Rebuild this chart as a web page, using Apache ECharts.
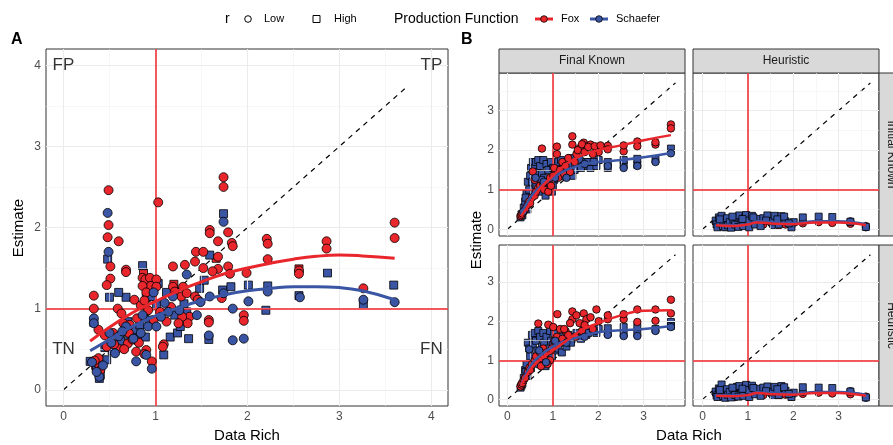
<!DOCTYPE html>
<html><head><meta charset="utf-8">
<script src="https://cdn.jsdelivr.net/npm/echarts@6/dist/echarts.min.js"></script>
<style>html,body{margin:0;padding:0;background:#fff}#c{width:893px;height:445px}</style>
</head><body><div id="c"></div>
<script>
// ---------- Panel A data ----------
const foxLowA = [[0.49,2.46],[0.49,2.03],[0.48,1.88],[0.60,1.83],[0.51,1.52],[0.51,1.37],[0.47,1.29],[0.33,1.16],[0.33,1.00],[0.38,0.74],[0.68,1.48],[0.68,1.45],[0.77,1.11],[1.03,2.31],[0.86,1.38],[0.89,1.36],[0.94,1.38],[0.95,1.28],[0.86,1.28],[0.90,1.20],[1.01,1.36],[1.01,1.27],[0.59,1.00],[0.63,0.94],[0.65,0.82],[0.71,0.70],[0.54,0.70],[0.45,0.67],[0.47,0.53],[0.59,0.51],[0.70,0.57],[0.79,0.47],[0.90,0.49],[0.96,0.35],[0.39,0.30],[0.38,0.39],[1.09,0.56],[1.08,0.53],[1.19,1.52],[1.19,1.27],[1.32,1.54],[1.44,1.70],[1.43,1.58],[1.52,1.70],[1.52,1.50],[1.59,1.97],[1.59,1.93],[1.68,1.83],[1.68,1.64],[1.68,1.49],[1.74,2.62],[1.74,2.50],[1.79,1.94],[1.83,1.81],[1.84,1.77],[1.79,1.52],[1.81,1.43],[1.99,1.44],[1.96,0.92],[1.96,0.85],[1.58,0.86],[1.58,0.83],[2.21,1.86],[2.22,1.80],[2.22,1.61],[2.56,1.47],[2.56,1.43],[2.86,1.83],[2.86,1.74],[3.26,1.25],[3.60,2.06],[3.60,1.87],[1.21,1.21],[1.28,1.15],[1.30,1.27],[1.34,1.19],[1.43,1.15],[1.46,1.11],[1.37,0.90],[1.35,0.82],[1.29,0.90],[1.25,0.82],[1.17,1.02],[1.62,1.46],[1.72,1.13],[0.72,0.80],[0.80,0.88],[0.84,1.04],[0.88,1.10],[0.92,0.98],[0.75,0.62],[0.82,0.58],[0.66,0.50],[0.55,0.56],[0.98,0.86],[1.05,0.96],[1.12,0.84],[0.88,0.44],[0.34,0.36],[0.40,0.24]];
const foxHighA = [[0.87,1.44],[0.35,0.30],[1.66,1.62],[2.56,1.49],[1.20,1.30],[0.70,0.76]];
const schLowA = [[0.48,2.18],[0.49,1.70],[1.74,2.07],[0.33,0.88],[0.33,0.82],[0.50,0.70],[0.56,0.45],[0.90,0.43],[0.96,0.26],[0.79,0.35],[0.39,0.16],[0.36,0.22],[1.34,1.42],[1.45,0.92],[1.58,0.67],[1.84,0.61],[1.96,0.63],[2.01,1.09],[1.74,1.19],[1.84,1.00],[2.22,1.21],[2.57,1.14],[3.26,1.11],[3.60,1.08],[1.59,1.15],[1.19,1.15],[1.10,1.07],[0.92,0.78],[1.01,0.78],[0.68,0.78],[0.76,0.63],[0.60,0.66],[0.52,0.58],[0.64,0.72],[0.84,0.70],[1.14,0.96],[1.26,0.98],[1.06,0.90],[0.43,0.30],[0.31,0.34],[0.86,0.92],[0.98,1.20],[1.49,1.08]];
const schHighA = [[0.48,1.61],[0.50,1.14],[0.68,1.14],[0.60,1.20],[0.86,1.53],[0.33,0.83],[0.33,0.35],[0.29,0.35],[0.39,0.14],[0.47,0.37],[0.56,0.55],[0.72,0.63],[0.78,0.67],[0.81,0.61],[0.89,0.65],[0.90,1.13],[1.01,1.05],[1.09,0.43],[1.16,0.65],[1.24,0.70],[1.36,0.63],[1.34,0.96],[1.21,0.92],[1.59,1.66],[1.58,0.62],[1.74,2.17],[1.73,1.23],[1.82,1.27],[2.01,1.29],[2.20,0.98],[2.22,1.28],[2.56,1.16],[2.87,1.44],[3.26,1.05],[3.59,1.29],[1.48,1.25],[1.53,1.35],[0.94,1.25],[0.96,1.15],[1.03,1.31],[0.36,0.28],[0.40,0.18],[0.62,0.60],[0.70,0.84],[0.76,0.74],[0.83,0.80],[0.93,0.86],[1.12,1.20],[1.27,0.78],[1.31,1.06],[0.45,0.52],[0.53,0.48]];
const foxSmoothA = [[0.29,0.60],[0.5,0.77],[0.75,0.95],[1.0,1.09],[1.25,1.22],[1.5,1.33],[1.75,1.43],[2.0,1.50],[2.25,1.56],[2.5,1.61],[2.75,1.645],[3.0,1.66],[3.25,1.65],[3.6,1.62]];
const schSmoothA = [[0.29,0.48],[0.5,0.62],[0.75,0.78],[1.0,0.91],[1.25,1.01],[1.5,1.10],[1.75,1.17],[2.0,1.22],[2.25,1.25],[2.5,1.27],[2.75,1.27],[3.0,1.26],[3.25,1.22],[3.6,1.11]];
const quadrantLabels = [[0,4,'FP'],[4,4,'TP'],[0,0.5,'TN'],[4,0.5,'FN']];

// ---------- Panel B data ----------
const facetCols = ['Final Known','Heuristic'];
const facetRows = ['Initial Known','Heuristic'];
// Final Known x Initial Known
const foxTL = [[0.29,0.33],[0.31,0.36],[0.33,0.40],[0.36,0.45],[0.39,0.50],[0.45,0.62],[0.48,0.70],[0.50,0.66],[0.54,0.80],[0.56,1.46],[0.60,1.25],[0.60,0.85],[0.63,0.95],[0.68,1.05],[0.72,1.10],[0.76,2.04],[0.79,1.15],[0.81,1.00],[0.86,1.20],[0.90,0.95],[0.94,1.30],[0.96,1.10],[1.01,1.35],[1.03,1.55],[1.09,2.09],[1.09,1.90],[1.16,1.50],[1.21,1.70],[1.28,1.60],[1.34,1.80],[1.43,2.35],[1.43,2.14],[1.52,1.90],[1.59,2.05],[1.68,2.19],[1.74,2.10],[1.83,2.14],[1.96,2.05],[2.01,1.95],[2.21,2.11],[2.21,2.02],[2.56,1.97],[2.56,2.12],[2.86,2.22],[2.86,2.10],[3.26,2.14],[3.26,2.20],[3.60,2.65],[3.60,2.55],[1.12,1.30],[1.25,1.40],[1.38,1.45],[1.48,1.70],[1.55,2.00],[1.64,2.15],[1.70,1.95],[1.78,2.08],[1.88,1.90],[1.92,2.10],[2.05,2.12]];
const schSqTL = [[0.29,0.30],[0.31,0.38],[0.33,0.35],[0.36,0.55],[0.39,0.70],[0.42,0.90],[0.45,1.20],[0.48,1.00],[0.50,1.35],[0.52,1.55],[0.54,1.20],[0.56,1.70],[0.60,1.55],[0.63,1.70],[0.66,1.45],[0.68,1.75],[0.72,1.60],[0.76,1.40],[0.79,1.75],[0.81,1.30],[0.86,1.65],[0.90,1.50],[0.94,1.20],[0.96,1.70],[1.01,1.55],[1.03,1.25],[1.09,1.60],[1.16,1.35],[1.21,1.50],[1.28,1.40],[1.34,1.60],[1.43,1.35],[1.52,1.55],[1.59,1.75],[1.68,1.60],[1.74,1.70],[1.83,1.55],[1.96,1.60],[2.01,1.75],[2.21,1.55],[2.21,1.70],[2.56,1.63],[2.56,1.75],[2.86,1.63],[2.86,1.78],[3.26,1.76],[3.60,2.04],[0.40,0.80],[0.44,0.50],[0.58,0.90],[0.64,1.10],[0.70,0.95],[0.74,1.25],[0.84,0.85],[0.88,1.05],[0.98,0.95],[1.00,1.10],[1.06,1.45],[1.12,1.70],[1.18,1.75],[1.24,1.60],[1.40,1.80],[1.48,1.50],[1.62,1.55],[1.78,1.70],[1.90,1.70]];
const schCiTL = [[0.35,0.45],[0.62,1.30],[0.80,1.20],[1.05,1.30],[1.30,1.30],[1.70,1.65],[2.21,1.60],[2.56,1.55],[2.86,1.60],[3.26,1.70],[3.60,1.92]];
const foxSmTL = [[0.3,0.33],[0.5,0.65],[0.7,1.0],[1.0,1.35],[1.3,1.65],[1.6,1.85],[2.0,2.0],[2.5,2.12],[3.0,2.25],[3.6,2.38]];
const schSmTL = [[0.3,0.35],[0.5,0.8],[0.7,1.05],[1.0,1.3],[1.3,1.5],[1.6,1.62],[2.0,1.7],[2.5,1.75],[3.0,1.82],[3.6,1.93]];
// Final Known x Heuristic
const foxBL = [[0.29,0.33],[0.31,0.38],[0.33,0.42],[0.36,0.50],[0.39,0.55],[0.45,0.70],[0.48,0.80],[0.50,0.75],[0.54,0.90],[0.60,1.00],[0.63,1.10],[0.68,1.94],[0.72,1.20],[0.76,1.05],[0.79,1.30],[0.81,1.10],[0.86,1.20],[0.90,1.91],[0.94,1.00],[0.96,1.25],[1.01,1.85],[1.03,1.50],[1.09,1.60],[1.16,1.80],[1.21,1.55],[1.28,1.75],[1.34,1.65],[1.43,2.25],[1.43,2.05],[1.52,2.15],[1.59,1.95],[1.68,2.20],[1.74,2.05],[1.83,2.10],[1.96,2.30],[2.01,2.00],[2.21,2.05],[2.21,2.15],[2.56,2.05],[2.56,2.18],[2.86,1.98],[2.86,2.30],[3.26,2.01],[3.26,2.30],[3.60,2.55],[3.60,2.20],[1.10,2.18],[1.25,1.80],[1.38,1.95],[1.50,1.60],[1.64,1.75],[1.70,1.90],[1.88,1.80],[0.88,0.90],[0.74,0.85],[0.98,1.30]];
const schSqBL = [[0.29,0.30],[0.31,0.35],[0.33,0.40],[0.36,0.55],[0.39,0.75],[0.42,0.90],[0.45,1.45],[0.48,1.30],[0.50,1.10],[0.54,1.65],[0.56,1.40],[0.60,1.70],[0.63,1.50],[0.66,1.25],[0.68,1.75],[0.72,1.60],[0.76,1.35],[0.79,1.70],[0.81,1.45],[0.86,1.60],[0.90,1.30],[0.94,1.75],[0.96,1.50],[1.01,1.40],[1.03,1.70],[1.09,1.55],[1.16,1.45],[1.21,1.60],[1.28,1.50],[1.34,1.65],[1.43,1.55],[1.52,1.70],[1.59,1.60],[1.68,1.75],[1.74,1.65],[1.83,1.80],[1.96,1.70],[2.01,1.80],[2.21,1.70],[2.21,1.82],[2.56,1.68],[2.56,1.85],[2.86,1.70],[2.86,1.85],[3.26,1.80],[3.60,1.98],[3.60,1.88],[0.40,0.70],[0.44,0.60],[0.52,0.80],[0.58,0.95],[0.64,1.00],[0.70,0.90],[0.74,1.05],[0.84,0.85],[0.88,0.95],[0.98,1.10],[1.06,1.25],[1.12,1.30],[1.20,1.20],[1.30,1.35],[1.40,1.45],[1.48,1.60],[1.62,1.55],[1.78,1.70],[1.90,1.75]];
const schCiBL = [[0.48,1.28],[0.70,1.25],[0.85,0.95],[1.05,1.50],[1.30,1.45],[1.70,1.60],[2.21,1.65],[2.56,1.62],[2.86,1.62],[3.26,1.75],[3.60,1.85]];
const foxSmBL = [[0.3,0.35],[0.5,0.75],[0.7,1.0],[1.0,1.25],[1.3,1.5],[1.6,1.75],[2.0,1.95],[2.5,2.15],[3.0,2.27],[3.6,2.28]];
const schSmBL = [[0.3,0.35],[0.5,0.85],[0.7,1.1],[1.0,1.35],[1.3,1.5],[1.6,1.6],[2.0,1.72],[2.5,1.77],[3.0,1.8],[3.6,1.88]];
// Heuristic x Initial Known
const foxTR = [[0.29,0.18],[0.33,0.10],[0.39,0.08],[0.45,0.12],[0.50,0.06],[0.56,0.08],[0.63,0.10],[0.72,0.07],[0.81,0.12],[0.90,0.09],[1.01,0.15],[1.09,0.20],[1.21,0.18],[1.34,0.12],[1.52,0.15],[1.68,0.10],[1.83,0.12],[1.96,0.08],[2.21,0.15],[2.56,0.18],[2.86,0.16],[3.26,0.14],[3.60,0.08]];
const schSqTR = [[0.29,0.22],[0.31,0.12],[0.33,0.05],[0.36,0.30],[0.39,0.15],[0.42,0.34],[0.45,0.08],[0.48,0.20],[0.50,0.05],[0.54,0.28],[0.56,0.10],[0.60,0.18],[0.63,0.04],[0.68,0.25],[0.72,0.12],[0.76,0.30],[0.79,0.06],[0.81,0.35],[0.86,0.18],[0.90,0.08],[0.94,0.30],[0.96,0.36],[1.01,0.22],[1.03,0.05],[1.09,0.34],[1.16,0.12],[1.21,0.26],[1.28,0.08],[1.34,0.28],[1.43,0.35],[1.52,0.20],[1.59,0.34],[1.68,0.12],[1.74,0.33],[1.83,0.20],[1.96,0.05],[2.01,0.18],[2.21,0.30],[2.56,0.32],[2.86,0.31],[3.26,0.19],[3.60,0.06],[0.38,0.25],[0.66,0.32],[0.88,0.26],[1.12,0.30],[1.40,0.22],[1.65,0.25],[1.80,0.32],[1.90,0.15]];
const schCiTR = [[0.30,0.20],[0.52,0.15],[0.92,0.12],[1.25,0.15],[1.55,0.10],[2.21,0.20],[3.26,0.20],[3.60,0.05]];
const foxSmTR = [[0.3,0.10],[0.6,0.08],[1.0,0.12],[1.2,0.17],[1.6,0.14],[2.0,0.13],[2.5,0.17],[3.0,0.17],[3.3,0.15],[3.6,0.10]];
const schSmTR = [[0.3,0.12],[0.6,0.10],[1.0,0.13],[1.2,0.20],[1.6,0.17],[2.0,0.15],[2.5,0.20],[3.0,0.20],[3.3,0.18],[3.6,0.13]];
// Heuristic x Heuristic
const foxBR = [[0.29,0.15],[0.33,0.08],[0.39,0.10],[0.45,0.12],[0.50,0.07],[0.56,0.09],[0.63,0.11],[0.72,0.06],[0.81,0.13],[0.90,0.10],[1.01,0.16],[1.09,0.18],[1.21,0.15],[1.34,0.11],[1.52,0.14],[1.68,0.09],[1.83,0.12],[1.96,0.07],[2.21,0.14],[2.56,0.17],[2.86,0.15],[3.26,0.13],[3.60,0.07]];
const schSqBR = [[0.29,0.20],[0.31,0.10],[0.33,0.06],[0.36,0.28],[0.39,0.14],[0.42,0.38],[0.45,0.09],[0.48,0.22],[0.50,0.04],[0.54,0.26],[0.56,0.12],[0.60,0.19],[0.63,0.05],[0.68,0.27],[0.72,0.11],[0.76,0.32],[0.79,0.07],[0.81,0.34],[0.86,0.16],[0.90,0.09],[0.94,0.28],[0.96,0.37],[1.01,0.24],[1.03,0.06],[1.09,0.35],[1.16,0.13],[1.21,0.27],[1.28,0.09],[1.34,0.30],[1.43,0.33],[1.52,0.18],[1.59,0.32],[1.68,0.11],[1.74,0.34],[1.83,0.22],[1.96,0.06],[2.01,0.17],[2.21,0.31],[2.56,0.30],[2.86,0.29],[3.26,0.20],[3.60,0.05],[0.38,0.24],[0.66,0.30],[0.88,0.27],[1.12,0.29],[1.40,0.21],[1.65,0.26],[1.80,0.31],[1.90,0.14]];
const schCiBR = [[0.30,0.18],[0.52,0.14],[0.92,0.11],[1.25,0.16],[1.55,0.09],[2.21,0.19],[3.26,0.21],[3.60,0.04]];
const foxSmBR = [[0.3,0.09],[0.6,0.08],[1.0,0.11],[1.2,0.16],[1.6,0.13],[2.0,0.12],[2.5,0.16],[3.0,0.16],[3.3,0.14],[3.6,0.09]];
const schSmBR = [[0.3,0.11],[0.6,0.10],[1.0,0.12],[1.2,0.18],[1.6,0.16],[2.0,0.14],[2.5,0.19],[3.0,0.19],[3.3,0.17],[3.6,0.12]];

const ticksA = [0,1,2,3,4];
const ticksB = [0,1,2,3];
const diagA = [[0,0],[3.75,3.75]];
const diagB = [[0,0],[3.7,3.7]];

// ---------- styling / layout ----------
const RED = '#E8262C', BLUE = '#3B55A5';
const FONT = '"Liberation Sans", Arial, sans-serif';
const chart = echarts.init(document.getElementById('c'), null, {renderer:'canvas'});

const grids = [
  {left:46, top:49, width:402, height:357},
  {left:499, top:73, width:186, height:163},
  {left:693, top:73, width:186, height:163},
  {left:499, top:245, width:186, height:161},
  {left:693, top:245, width:186, height:161}
].map(g => Object.assign(g, {show:true, borderColor:'#333', borderWidth:1, backgroundColor:'#fff', containLabel:false}));

function axis(i, min, max, ticks, showTicks, showLabels) {
  return {type:'value', gridIndex:i, min:min, max:max,
    axisLine:{show:false}, splitLine:{show:false},
    axisTick:{show:showTicks, length:3, inside:false, lineStyle:{color:'#333', width:1}, customValues:ticks},
    axisLabel:{show:showLabels, customValues:ticks, color:'#4D4D4D', fontSize:12, fontFamily:FONT, margin:5}};
}
const xAxes = [
  axis(0,-0.19,4.18,ticksA,true,true),
  axis(1,-0.185,3.91,ticksB,false,false),
  axis(2,-0.21,3.89,ticksB,false,false),
  axis(3,-0.185,3.91,ticksB,true,true),
  axis(4,-0.21,3.89,ticksB,true,true)
];
const yAxes = [
  axis(0,-0.2,4.2,ticksA,true,true),
  axis(1,-0.17,3.95,ticksB,true,true),
  axis(2,-0.17,3.95,ticksB,false,false),
  axis(3,-0.17,3.95,ticksB,true,true),
  axis(4,-0.17,3.95,ticksB,false,false)
];

function gridLines(i, ticks, maxv) {
  const d = [];
  const minor = [];
  for (let k = 0; k < ticks.length; k++) minor.push(ticks[k] + 0.5);
  if (maxv > 4) minor.pop();
  minor.forEach(v => { d.push({xAxis:v, lineStyle:{color:'#F2F2F2', width:0.6, type:'solid'}}); d.push({yAxis:v, lineStyle:{color:'#F2F2F2', width:0.6, type:'solid'}}); });
  ticks.forEach(v => { d.push({xAxis:v, lineStyle:{color:'#EBEBEB', width:1.1, type:'solid'}}); d.push({yAxis:v, lineStyle:{color:'#EBEBEB', width:1.1, type:'solid'}}); });
  return {type:'line', xAxisIndex:i, yAxisIndex:i, data:[], z:1, silent:true,
    markLine:{silent:true, symbol:['none','none'], label:{show:false}, animation:false, data:d}};
}
function refLines(i) {
  return {type:'line', xAxisIndex:i, yAxisIndex:i, data:[], z:2, silent:true,
    markLine:{silent:true, symbol:['none','none'], label:{show:false}, animation:false,
      lineStyle:{color:'#F0262B', width:1.5, type:'solid'}, data:[{xAxis:1},{yAxis:1}]}};
}
function diag(i, d) {
  return {type:'line', xAxisIndex:i, yAxisIndex:i, data:d, z:3, showSymbol:false, silent:true,
    lineStyle:{color:'#000', width:1.2, type:[5,5]}};
}
function pts(i, d, color, shape, size, z) {
  return {type:'scatter', xAxisIndex:i, yAxisIndex:i, data:d, symbol:shape, symbolSize:size, z:z||4,
    itemStyle:{color:color, borderColor:'#000', borderWidth:0.8, opacity:1}};
}
function smooth(i, d, color, w) {
  return {type:'line', xAxisIndex:i, yAxisIndex:i, data:d, smooth:0.5, showSymbol:false, z:6,
    lineStyle:{color:color, width:w}};
}

const series = [];
const ticksFor = [ticksA, ticksB, ticksB, ticksB, ticksB];
for (let i = 0; i < 5; i++) { series.push(gridLines(i, ticksFor[i], i === 0 ? 4.18 : 3.9)); series.push(refLines(i)); }
series.push(diag(0, diagA));
[1,2,3,4].forEach(i => series.push(diag(i, diagB)));
// Panel A points
series.push(pts(0, foxHighA, RED, 'rect', 8, 4));
series.push(pts(0, schHighA, BLUE, 'rect', 8, 4));
series.push(pts(0, foxLowA, RED, 'circle', 9, 5));
series.push(pts(0, schLowA, BLUE, 'circle', 9, 5));
series.push(smooth(0, foxSmoothA, RED, 3));
series.push(smooth(0, schSmoothA, BLUE, 3));
series.push({type:'scatter', xAxisIndex:0, yAxisIndex:0, data:quadrantLabels, symbolSize:0, z:7, silent:true,
  label:{show:true, position:'inside', formatter:p => p.value[2], fontSize:17, color:'#000', fontFamily:FONT}});
// Panel B
const facets = [
  [1, schSqTL, foxTL, schCiTL, foxSmTL, schSmTL],
  [2, schSqTR, foxTR, schCiTR, foxSmTR, schSmTR],
  [3, schSqBL, foxBL, schCiBL, foxSmBL, schSmBL],
  [4, schSqBR, foxBR, schCiBR, foxSmBR, schSmBR]
];
facets.forEach(f => {
  const i = f[0];
  if (i === 1 || i === 3) {
    series.push(pts(i, f[1], BLUE, 'rect', 7, 4));
    series.push(pts(i, f[2], RED, 'circle', 7.5, 5));
    series.push(pts(i, f[3], BLUE, 'circle', 7.5, 5));
  } else {
    series.push(pts(i, f[2], RED, 'circle', 7.5, 4));
    series.push(pts(i, f[3], BLUE, 'circle', 7.5, 4));
    series.push(pts(i, f[1], BLUE, 'rect', 7, 5));
  }
  series.push(smooth(i, f[5], BLUE, 2.5));
  series.push(smooth(i, f[4], RED, 2.5));
});

// ---------- graphic: strips, titles, legend ----------
const T = (x, y, text, size, opts) => Object.assign({type:'text', x:x, y:y, silent:true,
  style:Object.assign({text:text, fontSize:size, fontFamily:FONT, fill:'#000', textVerticalAlign:'middle'}, (opts||{}).style||{})}, (opts||{}).el||{});
const graphic = [
  // panel tags
  T(11, 40, 'A', 16, {style:{fontWeight:'bold'}}),
  T(461, 40, 'B', 16, {style:{fontWeight:'bold'}}),
  // axis titles
  T(247, 436, 'Data Rich', 15, {style:{textAlign:'center'}}),
  T(689, 436, 'Data Rich', 15, {style:{textAlign:'center'}}),
  T(19, 228, 'Estimate', 15, {style:{textAlign:'center'}, el:{rotation:Math.PI/2}}),
  T(477, 240, 'Estimate', 15, {style:{textAlign:'center'}, el:{rotation:Math.PI/2}}),
  // strips
  {type:'rect', shape:{x:499, y:49, width:186, height:24}, style:{fill:'#D9D9D9', stroke:'#333', lineWidth:1}, silent:true},
  {type:'rect', shape:{x:693, y:49, width:186, height:24}, style:{fill:'#D9D9D9', stroke:'#333', lineWidth:1}, silent:true},
  {type:'rect', shape:{x:879, y:73, width:24, height:163}, style:{fill:'#D9D9D9', stroke:'#333', lineWidth:1}, silent:true},
  {type:'rect', shape:{x:879, y:245, width:24, height:161}, style:{fill:'#D9D9D9', stroke:'#333', lineWidth:1}, silent:true},
  T(592, 61, facetCols[0], 12, {style:{textAlign:'center', fill:'#1A1A1A'}}),
  T(786, 61, facetCols[1], 12, {style:{textAlign:'center', fill:'#1A1A1A'}}),
  T(891, 154.5, facetRows[0], 12, {style:{textAlign:'center', fill:'#1A1A1A'}, el:{rotation:-Math.PI/2}}),
  T(891, 325.5, facetRows[1], 12, {style:{textAlign:'center', fill:'#1A1A1A'}, el:{rotation:-Math.PI/2}}),
  // legend
  T(225, 19, 'r', 14),
  {type:'circle', shape:{cx:248, cy:19, r:3.3}, style:{fill:'none', stroke:'#000', lineWidth:1}, silent:true},
  T(264, 19, 'Low', 11),
  {type:'rect', shape:{x:313, y:15.5, width:7, height:7}, style:{fill:'none', stroke:'#000', lineWidth:1}, silent:true},
  T(334, 19, 'High', 11),
  T(394, 19, 'Production Function', 14),
  {type:'line', shape:{x1:535, y1:19, x2:553, y2:19}, style:{stroke:RED, lineWidth:3}, silent:true},
  {type:'circle', shape:{cx:544, cy:19, r:3.3}, style:{fill:RED, stroke:'#000', lineWidth:0.8}, silent:true},
  T(561, 19, 'Fox', 11),
  {type:'line', shape:{x1:590, y1:19, x2:608, y2:19}, style:{stroke:BLUE, lineWidth:3}, silent:true},
  {type:'circle', shape:{cx:599, cy:19, r:3.3}, style:{fill:BLUE, stroke:'#000', lineWidth:0.8}, silent:true},
  T(616, 19, 'Schaefer', 11)
];

chart.setOption({
  animation:false,
  backgroundColor:'#fff',
  textStyle:{fontFamily:FONT},
  grid:grids, xAxis:xAxes, yAxis:yAxes, series:series, graphic:graphic
});
</script></body></html>
